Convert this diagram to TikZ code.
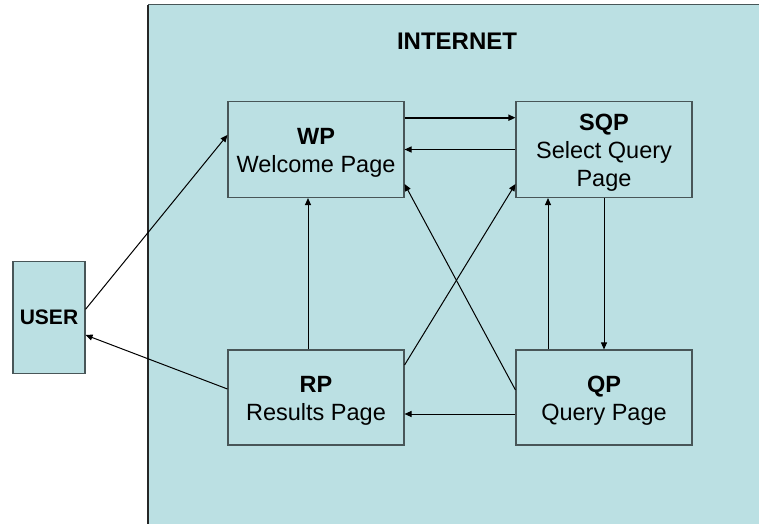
\documentclass[tikz,border=0pt]{standalone}
\usepackage{fontspec}
\setmainfont{Liberation Sans}
\usetikzlibrary{arrows.meta}
\definecolor{bgteal}{RGB}{187,224,227}
\definecolor{boxline}{RGB}{72,86,88}
\newcommand{\lowtext}[1]{\raisebox{-3.5bp}[\height][\depth]{\begin{tabular}{@{}c@{}}#1\end{tabular}}}
\tikzset{
  page/.style={draw=boxline, line width=1.1bp, fill=bgteal, minimum width=176bp, minimum height=96bp, inner sep=0pt, font=\fontsize{23.5bp}{28bp}\selectfont},
  userbox/.style={draw=boxline, line width=1.1bp, fill=bgteal, minimum width=72bp, minimum height=112bp, inner sep=0pt, font=\fontsize{21bp}{25bp}\selectfont\bfseries},
  conn/.style={draw=black, line width=1bp, -{Triangle[length=7bp,width=6bp]}},
  thickconn/.style={conn, line width=1.8bp}
}
\begin{document}
\begin{tikzpicture}[x=1bp,y=-1bp]
\useasboundingbox (0,0) rectangle (759,524);
% internet area
\fill[bgteal] (148,5) rectangle (765,530);
\draw[boxline, line width=1bp] (765,5) -- (148,5);
\draw[black!85, line width=1.8bp] (148,5) -- (148,530);
\node[font=\fontsize{24bp}{28bp}\selectfont\bfseries] (inet) at (457,41.5) {INTERNET};
% nodes
\node[userbox] (user) at (49,317.3) {USER};
\node[page] (wp) at (316,149.5) {\lowtext{\textbf{WP}\\Welcome Page}};
\node[page] (sqp) at (604,149.5) {\lowtext{\textbf{SQP}\\Select Query\\Page}};
\node[page, minimum height=95bp] (rp) at (316,397.5) {\lowtext{\textbf{RP}\\Results Page}};
\node[page, minimum height=95bp] (qp) at (604,397.5) {\lowtext{\textbf{QP}\\Query Page}};
% connectors
\draw[conn] ([yshift=8bp]user.east) -- ([yshift=14.5bp]wp.west);
\draw[conn] ([yshift=8.5bp]rp.west) -- ([yshift=-17.7bp]user.east);
\draw[thickconn] ([yshift=31.8bp]wp.east) -- ([yshift=31.8bp]sqp.west);
\draw[conn] (sqp.west) -- (wp.east);
\draw[conn] ([xshift=-8bp]rp.north) -- ([xshift=-8bp]wp.south);
\draw[conn] ([yshift=7.5bp]qp.west) -- ([yshift=-34.5bp]wp.east);
\draw[conn] ([yshift=32.5bp]rp.east) -- ([yshift=-34.5bp]sqp.west);
\draw[conn] ([xshift=-56bp]qp.north) -- ([xshift=-56bp]sqp.south);
\draw[conn] (sqp.south) -- (qp.north);
\draw[conn] ([yshift=-16.5bp]qp.west) -- ([yshift=-16.5bp]rp.east);
\end{tikzpicture}
\end{document}
